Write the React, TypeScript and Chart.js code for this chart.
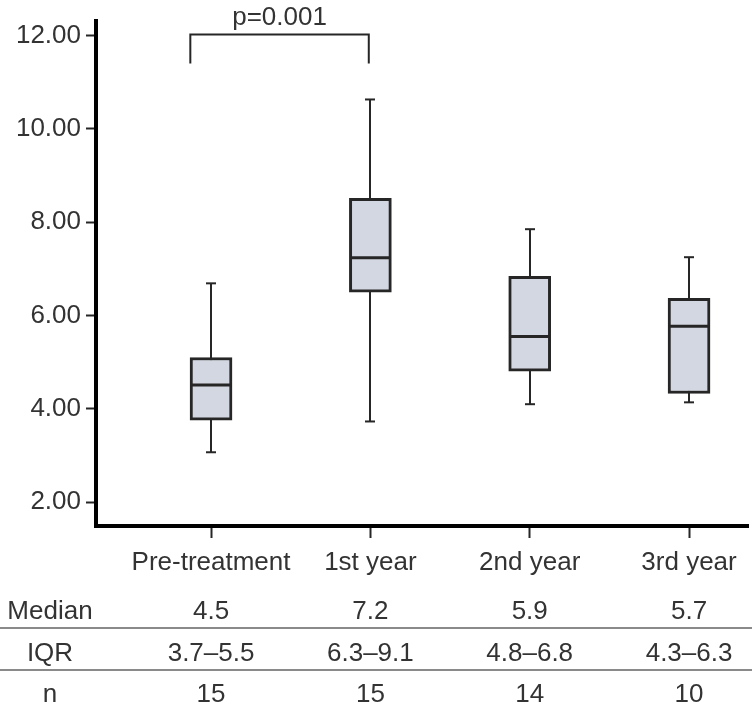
import React, { useEffect, useRef } from 'react';
import { Chart, registerables } from 'chart.js';

Chart.register(...registerables);

// ---- data ----
const categories = ['Pre-treatment', '1st year', '2nd year', '3rd year'];
const whiskerMin = [3.07, 3.73, 4.1, 4.14];
const q1 = [3.76, 6.5, 4.81, 4.33];
const medians = [4.51, 7.24, 5.55, 5.77];
const q3 = [5.1, 8.51, 6.84, 6.37];
const whiskerMax = [6.69, 10.63, 7.85, 7.25];
const yTicks = [2, 4, 6, 8, 10, 12];
const tableRowLabels = ['Median', 'IQR', 'n'];
const tableMedian = ['4.5', '7.2', '5.9', '5.7'];
const tableIQR = ['3.7–5.5', '6.3–9.1', '4.8–6.8', '4.3–6.3'];
const tableN = ['15', '15', '14', '10'];
const pLabel = 'p=0.001';

const FONT = "'Liberation Sans', Arial, sans-serif";
const TEXT = '#333333';
const DARK = '#262626';

const boxPlugin = {
  id: 'boxExtras',
  beforeDatasetsDraw(chart: any) {
    const { ctx, scales } = chart;
    const xs = scales.x;
    const ys = scales.y;
    ctx.save();
    ctx.strokeStyle = DARK;
    ctx.lineWidth = 2;
    categories.forEach((_, i) => {
      const x = Math.round(xs.getPixelForValue(i + 1));
      ctx.beginPath();
      ctx.moveTo(x, ys.getPixelForValue(whiskerMin[i]));
      ctx.lineTo(x, ys.getPixelForValue(whiskerMax[i]));
      ctx.stroke();
      [whiskerMin[i], whiskerMax[i]].forEach((v) => {
        const y = ys.getPixelForValue(v);
        ctx.beginPath();
        ctx.moveTo(x - 5, y);
        ctx.lineTo(x + 5, y);
        ctx.stroke();
      });
    });
    ctx.restore();
  },
  afterDatasetsDraw(chart: any) {
    const { ctx, scales } = chart;
    const xs = scales.x;
    const ys = scales.y;
    ctx.save();
    ctx.strokeStyle = DARK;
    ctx.lineWidth = 3;
    categories.forEach((_, i) => {
      const x = xs.getPixelForValue(i + 1);
      const y = ys.getPixelForValue(medians[i]);
      ctx.beginPath();
      ctx.moveTo(x - 20, y);
      ctx.lineTo(x + 20, y);
      ctx.stroke();
    });
    ctx.restore();
  },
  afterDraw(chart: any) {
    const { ctx, scales } = chart;
    const xs = scales.x;
    const ys = scales.y;
    ctx.save();
    // significance bracket
    const bx1 = xs.getPixelForValue(0.87);
    const bx2 = xs.getPixelForValue(1.99);
    const byTop = ys.getPixelForValue(12.02);
    const byLeg = ys.getPixelForValue(11.4);
    ctx.strokeStyle = DARK;
    ctx.lineWidth = 2;
    ctx.beginPath();
    ctx.moveTo(bx1, byLeg);
    ctx.lineTo(bx1, byTop);
    ctx.lineTo(bx2, byTop);
    ctx.lineTo(bx2, byLeg);
    ctx.stroke();
    ctx.fillStyle = TEXT;
    ctx.font = `26px ${FONT}`;
    ctx.textAlign = 'center';
    ctx.textBaseline = 'alphabetic';
    ctx.fillText(pLabel, (bx1 + bx2) / 2, 25);

    // table
    const rows = [tableMedian, tableIQR, tableN];
    const baselines = [619, 661, 702];
    rows.forEach((vals, r) => {
      ctx.fillText(tableRowLabels[r], 50, baselines[r]);
      vals.forEach((v, i) => {
        ctx.fillText(v, xs.getPixelForValue(i + 1), baselines[r]);
      });
    });
    ctx.strokeStyle = '#8a8a8a';
    ctx.lineWidth = 2;
    [628, 670].forEach((y) => {
      ctx.beginPath();
      ctx.moveTo(0, y);
      ctx.lineTo(752, y);
      ctx.stroke();
    });
    ctx.restore();
  },
};

export default function App() {
  const ref = useRef<HTMLCanvasElement | null>(null);

  useEffect(() => {
    if (!ref.current) return;
    const chart = new Chart(ref.current, {
      type: 'bar',
      data: {
        datasets: [
          {
            data: categories.map((_, i) => ({ x: i + 1, y: [q1[i], q3[i]] })) as any,
            backgroundColor: '#d3d7e1',
            borderColor: DARK,
            borderWidth: 3,
            borderSkipped: false,
            barThickness: 42,
          },
        ],
      },
      options: {
        responsive: false,
        animation: false,
        events: [],
        layout: { padding: { top: 20, right: 4, left: 0, bottom: 0 } },
        plugins: { legend: { display: false }, tooltip: { enabled: false } },
        scales: {
          x: {
            type: 'linear',
            min: 0.278,
            max: 4.37,
            offset: false,
            afterBuildTicks: (s: any) => {
              s.ticks = categories.map((_, i) => ({ value: i + 1 }));
            },
            afterFit: (s: any) => {
              s.height = 183;
            },
            ticks: {
              callback: (v: any) => categories[Number(v) - 1] ?? '',
              font: { family: FONT, size: 26 },
              color: TEXT,
              padding: 9,
              maxRotation: 0,
              autoSkip: false,
            },
            grid: {
              offset: false,
              drawOnChartArea: false,
              drawTicks: true,
              tickLength: 12,
              tickWidth: 2,
              tickColor: DARK,
              color: DARK,
            },
            border: { display: true, color: '#000', width: 4 },
          },
          y: {
            type: 'linear',
            min: 1.49,
            max: 12.32,
            afterBuildTicks: (s: any) => {
              s.ticks = yTicks.map((v) => ({ value: v }));
            },
            afterFit: (s: any) => {
              s.width = 96;
            },
            ticks: {
              callback: (v: any) => Number(v).toFixed(2),
              font: { family: FONT, size: 26 },
              color: TEXT,
              padding: 5,
            },
            grid: {
              drawOnChartArea: false,
              drawTicks: true,
              tickLength: 10,
              tickWidth: 2,
              tickColor: DARK,
              color: DARK,
            },
            border: { display: true, color: '#000', width: 4 },
          },
        },
      },
      plugins: [boxPlugin],
    });
    return () => chart.destroy();
  }, []);

  return (
    <div style={{ position: 'fixed', left: 0, top: 0, width: 752, height: 709, background: '#fff' }}>
      <canvas ref={ref} width={752} height={709} style={{ display: 'block' }} />
    </div>
  );
}
